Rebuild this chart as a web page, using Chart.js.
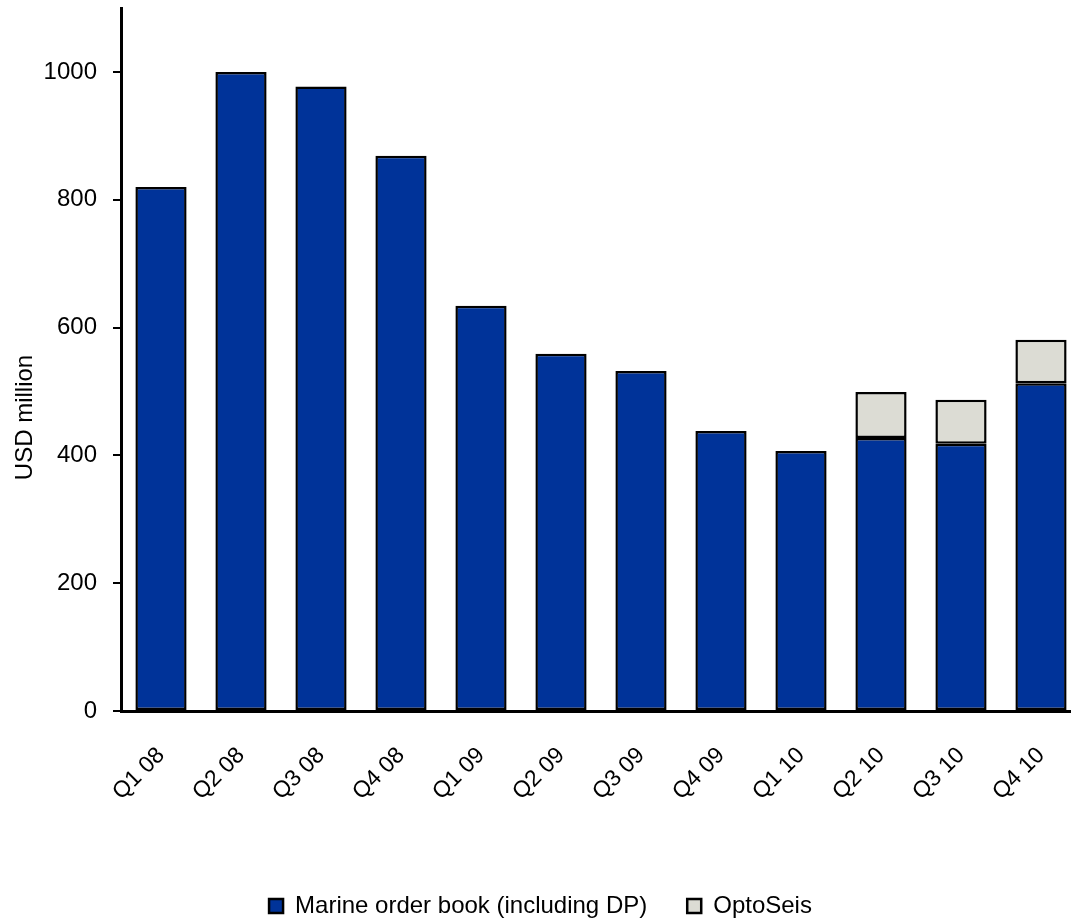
<!DOCTYPE html>
<html>
<head>
<meta charset="utf-8">
<script src="https://cdn.jsdelivr.net/npm/chart.js@4/dist/chart.umd.min.js"></script>
<style>
  html, body { margin: 0; padding: 0; background: #fff; overflow: hidden; }
  #wrap { width: 1081px; height: 918px; }
</style>
</head>
<body>
<div id="wrap"><canvas id="orderChart"></canvas></div>
<script>
var quarters = ["Q1 08", "Q2 08", "Q3 08", "Q4 08", "Q1 09", "Q2 09", "Q3 09", "Q4 09", "Q1 10", "Q2 10", "Q3 10", "Q4 10"];
var marine = [820, 1000, 977, 869, 634, 559, 532, 438, 407, 427, 418, 513];
var optoseis = [0, 0, 0, 0, 0, 0, 0, 0, 0, 72, 69, 68];
var yTicks = [0, 200, 400, 600, 800, 1000];

var fontName = "'Liberation Sans', Arial, sans-serif";

// y axis title sits a bit below the middle in the original
var yTitle = {
	id: 'yTitle',
	afterDraw: function(chart) {
		var c = chart.ctx;
		var area = chart.chartArea;
		c.save();
		c.translate(25, (area.top + area.bottom) / 2 + 58);
		c.rotate(-Math.PI / 2);
		c.font = "24px " + fontName;
		c.fillStyle = "#000";
		c.textAlign = "center";
		c.textBaseline = "middle";
		c.fillText("USD million", 0, 0);
		c.restore();
	}
};

var ctx = document.getElementById("orderChart").getContext("2d");
new Chart(ctx, {
	type: 'bar',
	data: {
		labels: quarters,
		datasets: [
		{
			label: "Marine order book (including DP)",
			data: marine,
			backgroundColor: "#003399",
			borderColor: "#000",
			borderWidth: 2.5,
			borderSkipped: false
		},
		{
			label: "OptoSeis",
			data: optoseis,
			backgroundColor: "#DCDCD4",
			borderColor: "#000",
			borderWidth: 2.5,
			borderSkipped: false
		}
		]
	},
	options: {
		responsive: true,
		maintainAspectRatio: false,
		animation: false,
		layout: { padding: { top: 8, left: 0, right: 0, bottom: -10 } },
		datasets: { bar: { barPercentage: 0.64, categoryPercentage: 1 } },
		plugins: {
			tooltip: { enabled: false },
			legend: {
				position: 'bottom',
				labels: {
					font: { family: fontName, size: 24 },
					color: "#000",
					boxWidth: 14,
					boxHeight: 14,
					padding: 40
				}
			}
		},
		scales: {
			x: {
				stacked: true,
				grid: { display: true, drawOnChartArea: false, drawTicks: false, color: "rgba(0,0,0,0)" },
				border: { display: true, color: "#000", width: 3 },
				ticks: {
					font: { family: fontName, size: 23 },
					color: "#000",
					maxRotation: 45,
					minRotation: 45,
					padding: 31
				},
				afterFit: function(scale) {
					scale.height = 143;
					scale.paddingLeft = 0;
					scale.paddingRight = 0;
				}
			},
			y: {
				stacked: true,
				min: 0,
				max: 1100,
				afterBuildTicks: function(scale) {
					scale.ticks = yTicks.map(function(v) { return { value: v }; });
				},
				grid: { display: true, drawOnChartArea: false, drawTicks: true, tickLength: 8, color: "#000", lineWidth: 2 },
				border: { display: true, color: "#000", width: 3 },
				ticks: {
					font: { family: fontName, size: 24 },
					color: "#000",
					padding: 16,
					callback: function(v) { return String(v); }
				},
				afterFit: function(scale) {
					scale.width = 121;
					scale.paddingTop = 0;
					scale.paddingBottom = 0;
				}
			}
		}
	},
	plugins: [yTitle]
});
</script>
</body>
</html>
